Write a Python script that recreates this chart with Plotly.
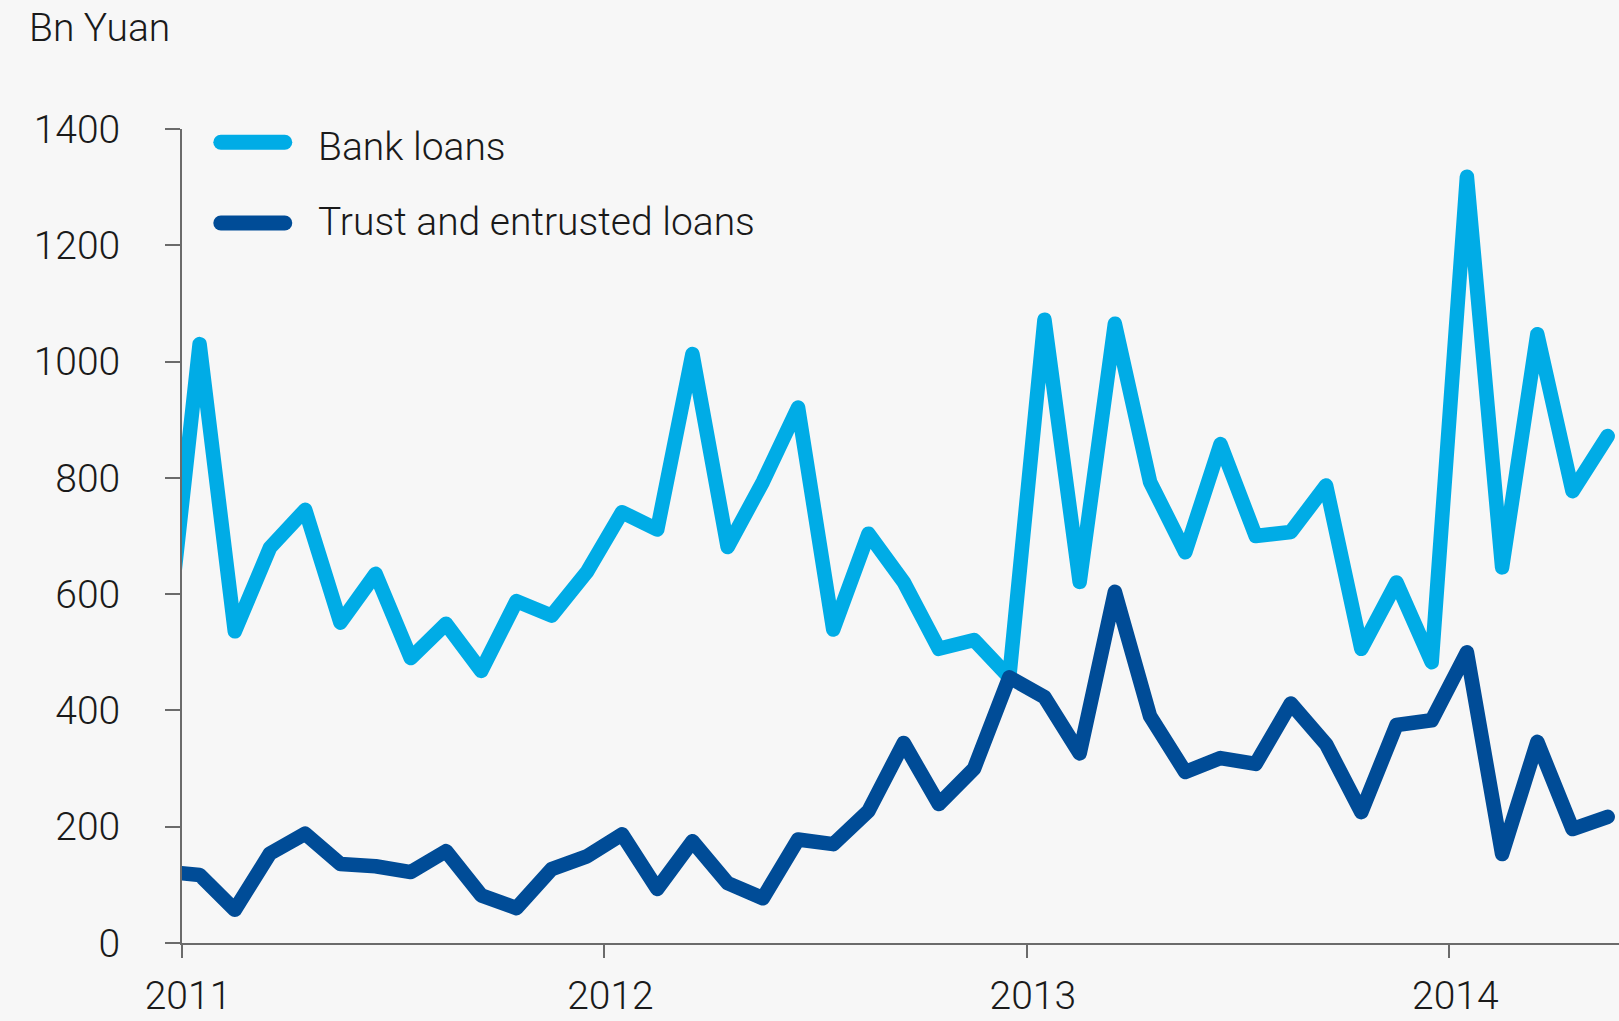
import plotly.graph_objects as go

# Monthly new lending, Dec 2010 - May 2014 (Bn Yuan)
months = (["2010-12"]
          + [f"2011-{m:02d}" for m in range(1, 13)]
          + [f"2012-{m:02d}" for m in range(1, 13)]
          + [f"2013-{m:02d}" for m in range(1, 13)]
          + [f"2014-{m:02d}" for m in range(1, 6)])

bank_loans = [480,
              1030, 536, 680, 745, 551, 635, 490, 549, 468, 588, 563, 638,
              741, 711, 1013, 681, 793, 921, 539, 704, 621, 506, 521, 457,
              1072, 621, 1065, 793, 672, 858, 700, 707, 787, 506, 620, 483,
              1318, 646, 1047, 777, 872]

trust_loans = [123,
               117, 57, 154, 188, 136, 132, 122, 158, 82, 60, 127, 149,
               187, 93, 175, 103, 77, 178, 170, 227, 344, 239, 300, 457,
               423, 326, 604, 390, 294, 318, 308, 412, 342, 225, 375, 383,
               500, 153, 346, 196, 217]

series_names = ["Bank loans", "Trust and entrusted loans"]
series_colors = ["#00ACE6", "#004C97"]
year_labels = ["2011", "2012", "2013", "2014"]
y_ticks = [0, 200, 400, 600, 800, 1000, 1200, 1400]
unit_label = "Bn Yuan"

# months are plotted at mid-month on a uniform monthly scale (0 = 1 Jan 2011)
def month_pos(label):
    y, m = label.split("-")
    return (int(y) - 2011) * 12 + (int(m) - 1) + 0.5

x_vals = [month_pos(m) for m in months]
year_pos = [(int(y) - 2011) * 12 for y in year_labels]

W, H = 1619, 1021
L, R, T, B = 181.7, 0, 129.3, 77.7
plot_w = W - L - R
plot_h = H - T - B

def px_x(px):
    return (px - L) / plot_w

def px_y(py):
    return (H - B - py) / plot_h

FONT = "Roboto"
TXT = "#1a1a1a"
AXIS = "#6b6b6b"
FS = 39
FW = 300

fig = go.Figure()
for name, vals, col in zip(series_names, [bank_loans, trust_loans], series_colors):
    fig.add_trace(go.Scatter(
        x=x_vals, y=vals, mode="lines", name=name,
        line=dict(color=col, width=14.5),
        showlegend=False, hoverinfo="skip"))

# legend: coloured stroke + label for each series
legend_rows = [142.5, 223.3]
legend_text_rows = [147.5, 222.3]
for name, col, yrow, ytxt in zip(series_names, series_colors, legend_rows, legend_text_rows):
    fig.add_shape(type="line", xref="paper", yref="paper",
                  x0=px_x(220.5), x1=px_x(284.5), y0=px_y(yrow), y1=px_y(yrow),
                  line=dict(color=col, width=15))
    fig.add_annotation(xref="paper", yref="paper", x=px_x(316), y=px_y(ytxt),
                       text=name, showarrow=False, xanchor="left", yanchor="middle",
                       font=dict(family=FONT, size=FS, color=TXT, weight=FW))

fig.add_annotation(xref="paper", yref="paper", x=px_x(27), y=px_y(28),
                   text=unit_label, showarrow=False, xanchor="left", yanchor="middle",
                   font=dict(family=FONT, size=FS, color=TXT, weight=FW))

fig.update_layout(
    width=W, height=H,
    margin=dict(l=L, r=R, t=T, b=B, pad=0),
    paper_bgcolor="#F7F7F7", plot_bgcolor="#F7F7F7",
    font=dict(family=FONT, size=FS, color=TXT, weight=FW),
    showlegend=False,
    xaxis=dict(range=[0, (W - L - R) / 35.21], tickmode="array",
               tickvals=year_pos, ticktext=year_labels,
               showgrid=False, zeroline=False, showline=True,
               linecolor=AXIS, linewidth=2, ticks="outside", ticklen=13,
               tickwidth=2, tickcolor=AXIS, ticklabelstandoff=4,
               ticklabelshift=6,
               tickfont=dict(family=FONT, size=FS, color=TXT, weight=FW)),
    yaxis=dict(range=[0, 1400], tickmode="array", tickvals=y_ticks,
               showgrid=False, zeroline=False, showline=True,
               linecolor=AXIS, linewidth=2, ticks="outside", ticklen=15,
               tickwidth=2, tickcolor=AXIS, ticklabelstandoff=37,
               tickfont=dict(family=FONT, size=FS, color=TXT, weight=FW)),
)

round_js = """
document.body.style.margin = '0';
function roundStrokes(){
  document.querySelectorAll('.scatterlayer path.js-line, .shapelayer path').forEach(function(p){
    p.style.strokeLinejoin = 'round';
    p.style.strokeLinecap = 'round';
  });
}
roundStrokes();
var gd = document.getElementById('{plot_id}');
if (gd && gd.on) { gd.on('plotly_afterplot', roundStrokes); }
"""

fig.write_html("out.html", post_script=round_js, config={"displayModeBar": False})
